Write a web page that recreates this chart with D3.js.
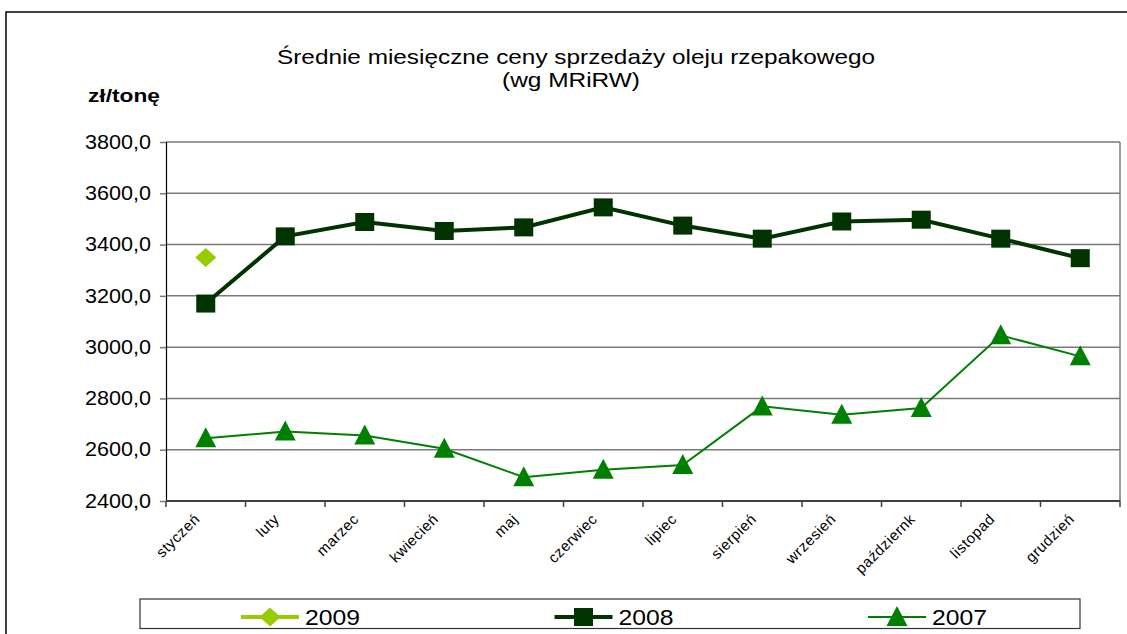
<!DOCTYPE html>
<html>
<head>
<meta charset="utf-8">
<script src="https://cdn.jsdelivr.net/npm/d3@7"></script>
<style>
  body { margin: 0; background: #fff; }
  svg { display: block; font-family: "Liberation Sans", Arial, sans-serif; }
</style>
</head>
<body>
<div id="chart"></div>
<script>
// data
var months = ["styczeń", "luty", "marzec", "kwiecień", "maj", "czerwiec", "lipiec",
              "sierpień", "wrzesień", "październk", "listopad", "grudzień"];
var values2009 = [3350];
var values2008 = [3170, 3432, 3488, 3453, 3467, 3545, 3474, 3423, 3490, 3497, 3423, 3347];
var values2007 = [2645, 2671, 2655, 2604, 2493, 2522, 2540, 2769, 2736, 2763, 3046, 2964];
var yTicks = [2400, 2600, 2800, 3000, 3200, 3400, 3600, 3800];
var seriesNames = ["2009", "2008", "2007"];

var width = 1127, height = 634;
var plot = { left: 166, right: 1120, top: 142, bottom: 501 };

var svg = d3.select("#chart").append("svg")
    .attr("width", width)
    .attr("height", height);

// outer chart frame (runs past the picture edge)
svg.append("rect")
    .attr("x", 6).attr("y", 12)
    .attr("width", 1140).attr("height", 660)
    .style("fill", "none")
    .style("stroke", "#000")
    .style("stroke-width", 1.5);

var x = d3.scaleBand()
    .domain(months)
    .range([plot.left, plot.right]);

var y = d3.scaleLinear()
    .domain([2400, 3800])
    .range([plot.bottom, plot.top]);

// title
svg.append("text")
    .attr("x", 576).attr("y", 64)
    .attr("text-anchor", "middle")
    .attr("textLength", 598)
    .attr("lengthAdjust", "spacingAndGlyphs")
    .style("font-size", "21px")
    .text("Średnie miesięczne ceny sprzedaży oleju rzepakowego");
svg.append("text")
    .attr("x", 571).attr("y", 87)
    .attr("text-anchor", "middle")
    .attr("textLength", 138)
    .attr("lengthAdjust", "spacingAndGlyphs")
    .style("font-size", "21px")
    .text("(wg MRiRW)");

// unit label
svg.append("text")
    .attr("x", 88).attr("y", 102)
    .attr("textLength", 72)
    .attr("lengthAdjust", "spacingAndGlyphs")
    .style("font-size", "18px")
    .style("font-weight", "bold")
    .text("zł/tonę");

// gridlines
svg.append("g")
    .selectAll("line")
    .data(yTicks)
    .enter().append("line")
    .attr("x1", plot.left).attr("x2", plot.right)
    .attr("y1", function(d) { return y(d); })
    .attr("y2", function(d) { return y(d); })
    .style("stroke", "#7a7a7a")
    .style("stroke-width", 1.5);

// plot area right border
svg.append("line")
    .attr("x1", plot.right).attr("x2", plot.right)
    .attr("y1", plot.top).attr("y2", plot.bottom)
    .style("stroke", "#7a7a7a")
    .style("stroke-width", 1.5);

// y axis
var fmt = function(d) { return d3.format(".1f")(d).replace(".", ","); };
var yAxis = svg.append("g")
    .attr("transform", "translate(" + plot.left + ",0)")
    .call(d3.axisLeft(y).tickValues(yTicks).tickFormat(fmt).tickSize(6).tickPadding(9));
yAxis.select(".domain").style("stroke", "#000").style("stroke-width", 1.2);
yAxis.selectAll(".tick line").style("stroke", "#7a7a7a").style("stroke-width", 1.5);
yAxis.selectAll("text")
    .attr("textLength", 66)
    .attr("lengthAdjust", "spacingAndGlyphs")
    .style("font-size", "19.5px")
    .style("fill", "#000")
    .style("font-family", "'Liberation Sans', Arial, sans-serif");

// x axis line
svg.append("line")
    .attr("x1", plot.left).attr("x2", plot.right)
    .attr("y1", plot.bottom).attr("y2", plot.bottom)
    .style("stroke", "#404040")
    .style("stroke-width", 2.2);

// x tick marks at category boundaries
var bounds = months.map(function(m) { return x(m); }).concat([plot.right]);
svg.append("g")
    .selectAll("line")
    .data(bounds)
    .enter().append("line")
    .attr("x1", function(d) { return d; })
    .attr("x2", function(d) { return d; })
    .attr("y1", plot.bottom)
    .attr("y2", plot.bottom + 6)
    .style("stroke", "#404040")
    .style("stroke-width", 1.5);

// x labels, rotated
svg.append("g")
    .selectAll("text")
    .data(months)
    .enter().append("text")
    .attr("transform", function(d) {
        return "translate(" + (x(d) + x.bandwidth() / 2 - 5) + "," + (plot.bottom + 19) + ") rotate(-45)";
    })
    .attr("text-anchor", "end")
    .style("font-size", "15px")
    .style("letter-spacing", "0.5px")
    .text(function(d) { return d; });

var line = d3.line()
    .x(function(d, i) { return x(months[i]) + x.bandwidth() / 2; })
    .y(function(d) { return y(d); });

// 2007 series
svg.append("path")
    .datum(values2007)
    .attr("d", line)
    .style("fill", "none")
    .style("stroke", "#008000")
    .style("stroke-width", 2);

var tri = "M0,-11 L10.5,9 L-10.5,9 Z";
svg.append("g")
    .selectAll("path")
    .data(values2007)
    .enter().append("path")
    .attr("d", tri)
    .attr("transform", function(d, i) {
        return "translate(" + (x(months[i]) + x.bandwidth() / 2) + "," + y(d) + ")";
    })
    .style("fill", "#008000");

// 2008 series
svg.append("path")
    .datum(values2008)
    .attr("d", line)
    .style("fill", "none")
    .style("stroke", "#003300")
    .style("stroke-width", 4);

svg.append("g")
    .selectAll("rect")
    .data(values2008)
    .enter().append("rect")
    .attr("x", function(d, i) { return x(months[i]) + x.bandwidth() / 2 - 9.5; })
    .attr("y", function(d) { return y(d) - 9; })
    .attr("width", 19)
    .attr("height", 18)
    .style("fill", "#003300");

// 2009 series
var diamond = "M0,-9.5 L10.5,0 L0,9.5 L-10.5,0 Z";
svg.append("g")
    .selectAll("path")
    .data(values2009)
    .enter().append("path")
    .attr("d", diamond)
    .attr("transform", function(d, i) {
        return "translate(" + (x(months[i]) + x.bandwidth() / 2) + "," + y(d) + ")";
    })
    .style("fill", "#99cc00");

// legend
var legend = svg.append("g");
legend.append("rect")
    .attr("x", 140).attr("y", 599)
    .attr("width", 940).attr("height", 29.5)
    .style("fill", "#fff")
    .style("stroke", "#333")
    .style("stroke-width", 1.2);

var legendStyle = [
    { color: "#99cc00", width: 4, marker: diamond },
    { color: "#003300", width: 4, marker: "M-9.5,-9 L9.5,-9 L9.5,9 L-9.5,9 Z" },
    { color: "#008000", width: 2, marker: tri }
];
var item = legend.selectAll(".item")
    .data(seriesNames)
    .enter().append("g")
    .attr("class", "item")
    .attr("transform", function(d, i) { return "translate(" + (241 + i * 313.5) + ",617)"; });
item.append("line")
    .attr("x1", 0).attr("x2", 58)
    .style("stroke", function(d, i) { return legendStyle[i].color; })
    .style("stroke-width", function(d, i) { return legendStyle[i].width; });
item.append("path")
    .attr("d", function(d, i) { return legendStyle[i].marker; })
    .attr("transform", "translate(29,0)")
    .style("fill", function(d, i) { return legendStyle[i].color; });
item.append("text")
    .attr("x", 64).attr("y", 8)
    .attr("textLength", 55)
    .attr("lengthAdjust", "spacingAndGlyphs")
    .style("font-size", "22px")
    .text(function(d) { return d; });
</script>
</body>
</html>
